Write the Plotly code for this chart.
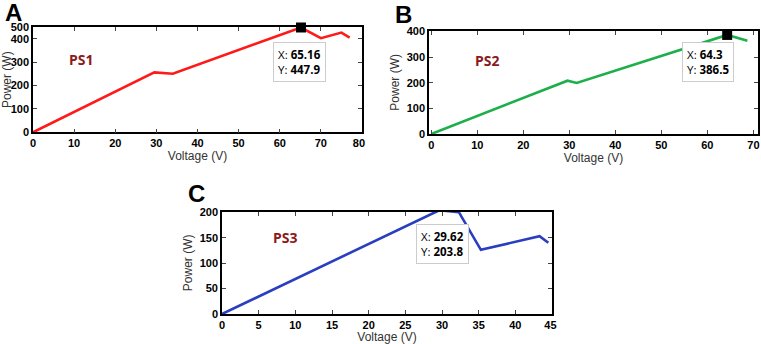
import plotly.graph_objects as go

# ---- data ----
ps1_v = [0, 29.5, 34.0, 65.16, 70.0, 75.0, 77.0]
ps1_p = [0, 256, 250, 447.9, 402, 426, 405]
ps2_v = [0, 29.6, 31.6, 64.3, 68.7]
ps2_p = [0, 208, 199, 386.5, 364]
ps3_v = [0, 29.62, 32.3, 35.3, 43.3, 44.5]
ps3_p = [0, 203.8, 200, 126, 153, 140]

peaks = [(65.16, 447.9), (64.3, 386.5), (29.62, 203.8)]
names = ["PS1", "PS2", "PS3"]
letters = ["A", "B", "C"]

ps1_xticks = [0, 10, 20, 30, 40, 50, 60, 70, 80]
ps1_xtext = ["0", "10", "20", "30", "40", "50", "60", "70", "80\u00a0\u00a0"]
ps2_xticks = [0, 10, 20, 30, 40, 50, 60, 70]
ps2_xtext = ["0", "10", "20", "30", "40", "50", "60", "70"]
ps3_xticks = [0, 5, 10, 15, 20, 25, 30, 35, 40, 45]
ps3_xtext = ["0", "5", "10", "15", "20", "25", "30", "35", "40", "45\u00a0"]
ps1_ytick_vals = [0, 100, 200, 300, 400, 450]
ps1_ytick_text = ["0", "100", "200", "300", "400", "500"]
ps2_yticks = [0, 100, 200, 300, 400]
ps3_yticks = [0, 50, 100, 150, 200]

colors = ["#FF1A1A", "#1DB04A", "#2A3EC0"]

W, H = 761, 344
def px(x0, x1, y0, y1):
    return [x0 / W, x1 / W], [1 - y1 / H, 1 - y0 / H]

dA = px(33, 362, 27, 132.3)
dB = px(429, 758, 30.7, 134)
dC = px(222, 552, 211.7, 314)

fig = go.Figure()
series = [(ps1_v, ps1_p), (ps2_v, ps2_p), (ps3_v, ps3_p)]
axn = ["", "2", "3"]
for i, (v, p) in enumerate(series):
    fig.add_trace(go.Scatter(x=v, y=p, mode="lines",
                             line=dict(color=colors[i], width=2.6),
                             xaxis="x" + axn[i], yaxis="y" + axn[i],
                             showlegend=False, hoverinfo="skip"))
    fig.add_trace(go.Scatter(x=[peaks[i][0]], y=[peaks[i][1]], mode="markers",
                             marker=dict(symbol="square", size=10, color="black"),
                             xaxis="x" + axn[i], yaxis="y" + axn[i],
                             showlegend=False, hoverinfo="skip", cliponaxis=False))

tickfont = dict(family="Liberation Sans, Arial", size=11, color="black", weight="bold")
titlefont = dict(family="Liberation Sans, Arial", size=12, color="#333333")

def xax(dom, rng, ticks, text, anchor):
    return dict(domain=dom, range=rng, tickvals=ticks, ticktext=text, ticks="inside",
                ticklen=4, tickcolor="#444", mirror="allticks", showline=True,
                linecolor="black", linewidth=1.6, showgrid=False, zeroline=False,
                tickfont=tickfont, automargin=False, ticklabeloverflow="allow",
                title=dict(text="Voltage (V)", font=titlefont, standoff=3),
                anchor=anchor, fixedrange=True)

def yax(dom, rng, vals, text, anchor):
    return dict(domain=dom, range=rng, tickvals=vals, ticktext=text, ticks="inside",
                ticklen=4, tickcolor="#444", mirror="allticks", showline=True,
                linecolor="black", linewidth=1.6, showgrid=False, zeroline=False,
                tickfont=tickfont, automargin=False, ticklabeloverflow="allow",
                title=dict(text="Power (W)", font=titlefont, standoff=4),
                anchor=anchor, fixedrange=True)

fig.update_layout(
    width=W, height=H, margin=dict(l=0, r=0, t=0, b=0),
    paper_bgcolor="white", plot_bgcolor="white",
    xaxis=xax(dA[0], [0, 80], ps1_xticks, ps1_xtext, "y"),
    yaxis=yax(dA[1], [0, 450], ps1_ytick_vals, ps1_ytick_text, "x"),
    xaxis2=xax(dB[0], [-0.5, 71], ps2_xticks, ps2_xtext, "y2"),
    yaxis2=yax(dB[1], [0, 403], ps2_yticks, [str(t) for t in ps2_yticks], "x2"),
    xaxis3=xax(dC[0], [0, 45], ps3_xticks, ps3_xtext, "y3"),
    yaxis3=yax(dC[1], [0, 201], ps3_yticks, [str(t) for t in ps3_yticks], "x3"),
)

annots = []
# panel letters
for lt, (xx, yy) in zip(letters, [(3, -3), (393, -1), (186, 178)]):
    annots.append(dict(text="<b>" + lt + "</b>", x=xx / W, y=1 - yy / H, xref="paper",
                       yref="paper", xanchor="left", yanchor="top", showarrow=False,
                       font=dict(family="Liberation Sans, Arial", size=24, color="black")))
# PS labels
for i, (xx, yy) in enumerate([(11.8, 312), (12.2, 285), (8.6, 151)]):
    annots.append(dict(text="<b>" + names[i] + "</b>", x=xx, y=yy, xref="x" + axn[i],
                       yref="y" + axn[i], showarrow=False,
                       font=dict(family="Open Sans, Liberation Sans", size=14, color="#8B1A1A")))
# datatips
for i, (xx, yy) in enumerate([(273, 42), (682, 42), (416, 224)]):
    pv, pp = peaks[i]
    annots.append(dict(text="X: <b>%g</b><br>Y: <b>%g</b>" % (pv, pp),
                       x=xx / W, y=1 - yy / H, xref="paper", yref="paper",
                       xanchor="left", yanchor="top", align="left", showarrow=False,
                       bgcolor="white", bordercolor="#cccccc", borderwidth=1, borderpad=4,
                       font=dict(family="Open Sans, Liberation Sans", size=11.5, color="black")))
fig.update_layout(annotations=annots)
fig.write_html("out.html", config={"displayModeBar": False},
               post_script="document.body.style.margin='0';document.body.style.overflow='hidden';")
